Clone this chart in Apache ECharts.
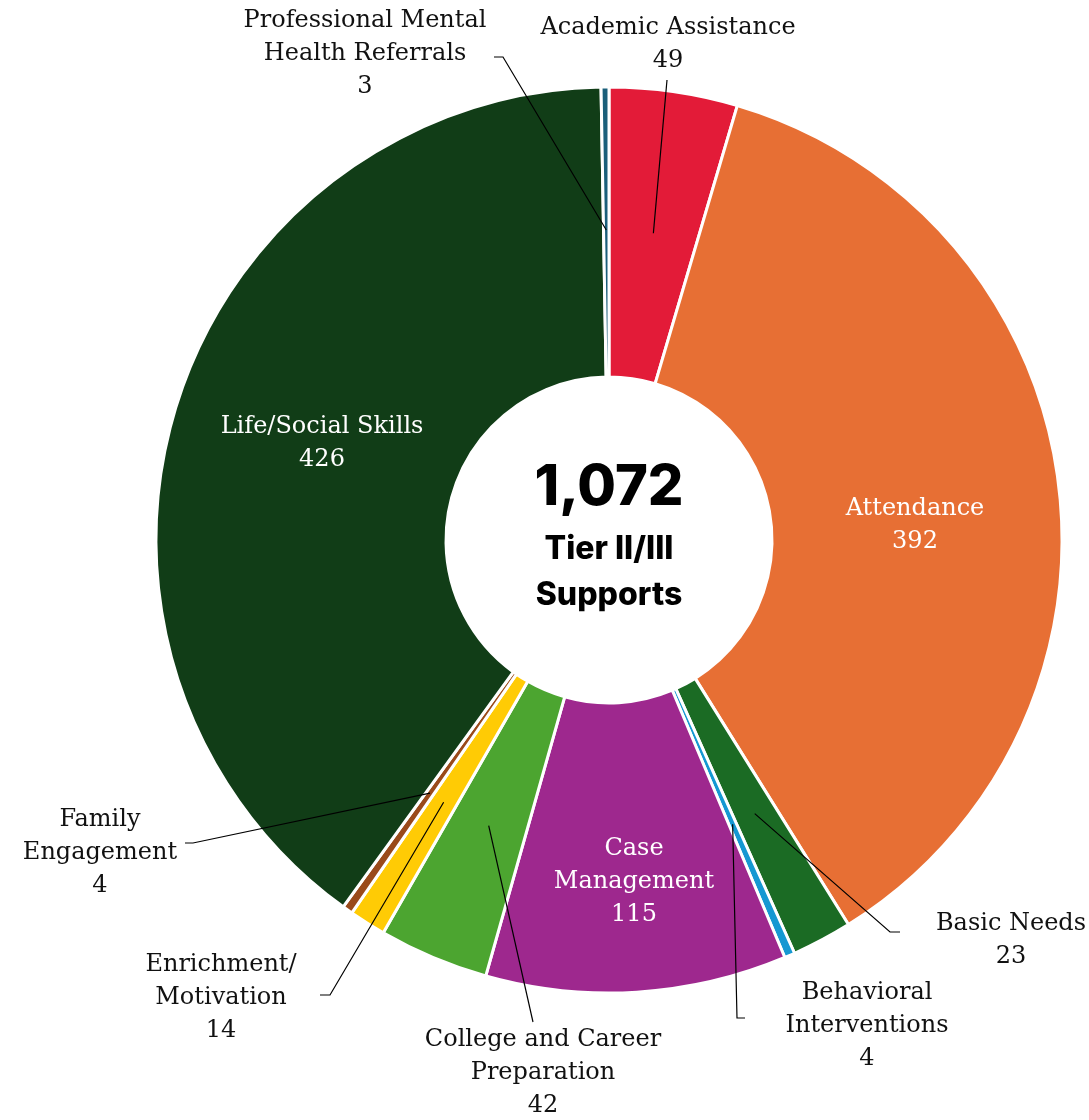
<!DOCTYPE html>
<html>
<head>
<meta charset="utf-8">
<script src="https://cdn.jsdelivr.net/npm/echarts@6/dist/echarts.min.js"></script>
<style>
  html, body { margin: 0; padding: 0; background: #fff; }
  #chart { width: 1089px; height: 1120px; }
</style>
</head>
<body>
<div id="chart"></div>
<script>
// Data
const categories = [
  "Academic Assistance", "Attendance", "Basic Needs", "Behavioral Interventions",
  "Case Management", "College and Career Preparation", "Enrichment/Motivation",
  "Family Engagement", "Life/Social Skills", "Professional Mental Health Referrals"
];
const values = [49, 392, 23, 4, 115, 42, 14, 4, 426, 3];
const labelText = [
  "Academic Assistance", "Attendance", "Basic Needs", "Behavioral\nInterventions",
  "Case\nManagement", "College and Career\nPreparation", "Enrichment/\nMotivation",
  "Family\nEngagement", "Life/Social Skills", "Professional Mental\nHealth Referrals"
];
const insideLabels = ["Attendance", "Case Management", "Life/Social Skills"];

// Styles / layout
const colors = [
  "#e31b38", "#e76f34", "#1b6b24", "#1598d2", "#9e288e",
  "#4ca530", "#ffcb05", "#9a4a1a", "#113d17", "#1a5f7a"
];
const center = [609, 540];
const radius = [163, 453];
// label centre + leader line bend/end points
const labelPos = [
  [668, 44], [915, 525], [1011, 940], [867, 1026], [634, 882],
  [543, 1073], [221, 998], [100, 853], [322, 443], [365, 54]
];
const lineEnds = [
  [[667, 80], [667, 80]], null, [[890, 932], [900, 932]], [[737, 1018], [745, 1018]], null,
  [[533, 1022], [533, 1022]], [[330, 995], [320, 995]], [[193, 843], [185, 843]], null,
  [[503, 57], [494, 57]]
];

const total = values.reduce((a, b) => a + b, 0);

// start of each leader line: inside the slice, on its mid angle
function lineStart(i) {
  let before = 0;
  for (let k = 0; k < i; k++) before += values[k];
  const theta = ((before + values[i] / 2) / total) * Math.PI * 2;
  const r = 310;
  return [center[0] + r * Math.sin(theta), center[1] - r * Math.cos(theta)];
}

const chart = echarts.init(document.getElementById("chart"));

const serif = "DejaVu Serif";

function labelLayout(params) {
  const i = params.dataIndex;
  const out = {
    x: labelPos[i][0],
    y: labelPos[i][1],
    align: "center",
    verticalAlign: "middle"
  };
  if (lineEnds[i]) {
    out.labelLinePoints = [lineStart(i), lineEnds[i][0], lineEnds[i][1]];
  }
  return out;
}

const baseLabel = {
  fontFamily: serif,
  fontSize: 24,
  lineHeight: 33,
  align: "center"
};

// slices + labels that sit inside them
const sliceData = categories.map((name, i) => {
  const inside = insideLabels.includes(name);
  return {
    name: name,
    value: values[i],
    itemStyle: { color: colors[i] },
    label: {
      show: inside,
      position: "inside",
      color: "#ffffff",
      formatter: () => labelText[i] + "\n" + values[i]
    }
  };
});

// transparent copy on top, carrying the outside labels and their leader lines
const calloutData = categories.map((name, i) => {
  const inside = insideLabels.includes(name);
  return {
    name: name,
    value: values[i],
    label: {
      show: !inside,
      position: "outside",
      color: "#111111",
      formatter: () => labelText[i] + "\n" + values[i]
    },
    labelLine: { show: !inside }
  };
});

const options = {
  animation: false,
  graphic: [
    {
      type: "text",
      style: {
        text: total.toLocaleString("en-US"),
        x: center[0], y: 488,
        textAlign: "center", textVerticalAlign: "middle",
        font: "800 56px Inter", fill: "#000"
      }
    },
    {
      type: "text",
      style: {
        text: "Tier II/III\nSupports",
        x: center[0], y: 572,
        textAlign: "center", textVerticalAlign: "middle",
        font: "800 32px Inter", lineHeight: 46, fill: "#000"
      }
    }
  ],
  series: [
    {
      type: "pie",
      z: 2,
      center: center,
      radius: radius,
      startAngle: 90,
      clockwise: true,
      avoidLabelOverlap: false,
      itemStyle: { borderColor: "#ffffff", borderWidth: 3 },
      label: baseLabel,
      labelLine: { show: false },
      emphasis: { disabled: true },
      labelLayout: labelLayout,
      data: sliceData
    },
    {
      type: "pie",
      z: 3,
      silent: true,
      center: center,
      radius: radius,
      startAngle: 90,
      clockwise: true,
      avoidLabelOverlap: false,
      itemStyle: { color: "rgba(0,0,0,0)", borderWidth: 0 },
      label: baseLabel,
      labelLine: { show: true, lineStyle: { color: "#000", width: 1.2 } },
      emphasis: { disabled: true },
      labelLayout: labelLayout,
      data: calloutData
    }
  ]
};

chart.setOption(options);

window.addEventListener("resize", () => chart.resize());
</script>
</body>
</html>
